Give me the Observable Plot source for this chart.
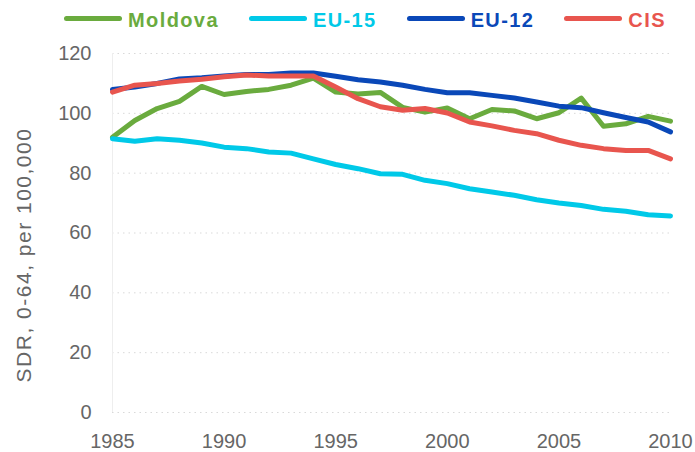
<!DOCTYPE html>
<html>
<head>
<meta charset="utf-8">
<script src="https://cdn.jsdelivr.net/npm/d3@7"></script>
<script src="https://cdn.jsdelivr.net/npm/@observablehq/plot@0.6"></script>
<style>
  html, body { margin: 0; padding: 0; background: #fff; }
  body { width: 695px; height: 452px; overflow: hidden; font-family: Arial, "Liberation Sans", sans-serif; }
  #legend { height: 40px; display: flex; align-items: center; padding-left: 64px; box-sizing: border-box; white-space: nowrap; width: 695px; }
  .item { display: flex; align-items: center; margin-right: 30px; flex-shrink: 0; }
  .swatch { width: 58px; height: 5px; border-radius: 3px; margin-right: 6px; margin-top: -4px; flex-shrink: 0; }
  .lbl { font-weight: bold; font-size: 20px; letter-spacing: 1.4px; line-height: 20px; white-space: nowrap; }
  #chart g[aria-label="text"] text { letter-spacing: 1.5px; }
</style>
</head>
<body>
<div id="legend"></div>
<div id="chart"></div>
<script>
const years = d3.range(1985, 2011);
const seriesNames = ["Moldova", "EU-15", "EU-12", "CIS"];
const seriesColors = ["#6aab3e", "#00c9e8", "#0a48b8", "#e8554e"];

const moldova = [92, 97.6, 101.6, 104, 109, 106.3, 107.3, 108, 109.4, 111.8, 107.1, 106.5, 107,
  102, 100.4, 101.8, 98.2, 101.3, 100.8, 98.2, 100.2, 105.1, 95.7, 96.5, 99, 97.4];
const eu15 = [91.5, 90.7, 91.5, 91, 90.1, 88.7, 88.2, 87.1, 86.7, 84.8, 82.9, 81.5, 79.8,
  79.6, 77.6, 76.5, 74.8, 73.7, 72.6, 71.1, 70, 69.2, 67.9, 67.3, 66.1, 65.7];
const eu12 = [108, 108.8, 110, 111.5, 111.9, 112.5, 113, 113, 113.5, 113.5, 112.4, 111.2, 110.5,
  109.4, 108, 106.9, 106.9, 106, 105.1, 103.8, 102.4, 101.9, 100.2, 98.6, 97.1, 93.8];
const cis = [107.1, 109.4, 110, 110.8, 111.4, 112.2, 112.8, 112.5, 112.5, 112.5, 108.8, 104.9, 102.2,
  101, 101.6, 100.1, 97.1, 95.8, 94.3, 93.2, 91, 89.3, 88.2, 87.6, 87.6, 84.8];

const yTicks = [0, 20, 40, 60, 80, 100, 120];
const xTicks = [1985, 1990, 1995, 2000, 2005, 2010];
const yLabel = "SDR, 0-64, per 100,000";

const valuesBySeries = [moldova, eu15, eu12, cis];
const data = [];
seriesNames.forEach((name, i) => {
  years.forEach((yr, j) => data.push({series: name, year: yr, value: valuesBySeries[i][j]}));
});

// legend
const legend = document.getElementById("legend");
seriesNames.forEach((name, i) => {
  const item = document.createElement("div");
  item.className = "item";
  const sw = document.createElement("div");
  sw.className = "swatch";
  sw.style.background = seriesColors[i];
  const t = document.createElement("span");
  t.className = "lbl";
  t.style.color = seriesColors[i];
  t.textContent = name;
  item.appendChild(sw); item.appendChild(t);
  legend.appendChild(item);
});

const chart = Plot.plot({
  width: 695,
  height: 412,
  marginLeft: 112,
  marginRight: 25,
  marginTop: 13,
  marginBottom: 40,
  style: {fontFamily: "Arial, 'Liberation Sans', sans-serif", fontSize: "20px", color: "#666666", background: "#fff"},
  x: {domain: [1985, 2010], ticks: xTicks, tickFormat: d3.format("d"), tickSize: 0, tickPadding: 21, label: null},
  y: {domain: [0, 120], ticks: yTicks, tickSize: 0, tickPadding: 21, label: null},
  color: {domain: seriesNames, range: seriesColors},
  marks: [
    Plot.ruleY(yTicks, {stroke: "#d9d9d9", strokeDasharray: "1.5,4", strokeWidth: 1}),
    Plot.ruleX([1985], {stroke: "#eeeeee", strokeWidth: 1}),
    Plot.lineY(data, {x: "year", y: "value", z: "series", stroke: "series", strokeWidth: 5, strokeLinejoin: "round", strokeLinecap: "round"}),
    Plot.text([yLabel], {frameAnchor: "left", dx: -88, dy: 22, rotate: -90, fontSize: 21, fill: "#666666", text: d => d, textAnchor: "middle"})
  ]
});
document.getElementById("chart").appendChild(chart);
</script>
</body>
</html>
